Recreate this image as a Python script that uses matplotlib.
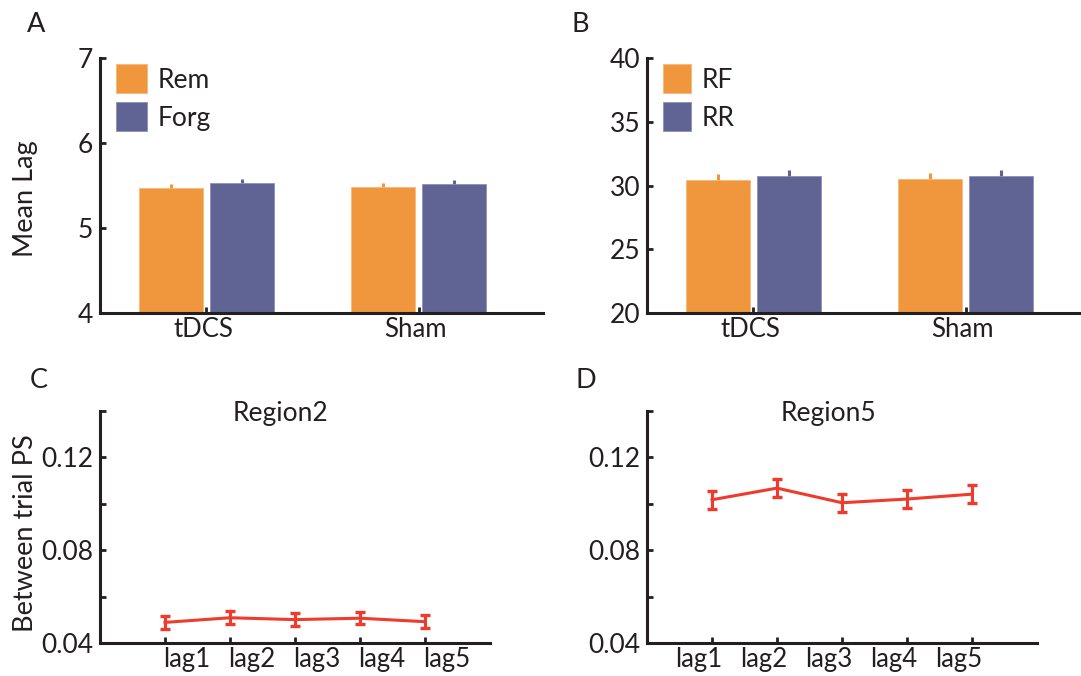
import matplotlib
matplotlib.use('Agg')
import matplotlib.pyplot as plt
import matplotlib.transforms as mtransforms
import numpy as np

plt.rcParams['font.family'] = ['Lato', 'DejaVu Sans']

# data
groups = ['tDCS', 'Sham']
rem = [5.47, 5.48]
rem_err = [0.05, 0.05]
forg = [5.53, 5.52]
forg_err = [0.05, 0.05]

rf = [30.43, 30.50]
rf_err = [0.47, 0.47]
rr = [30.72, 30.77]
rr_err = [0.47, 0.47]

lags = ['lag1', 'lag2', 'lag3', 'lag4', 'lag5']
region2 = [0.0490, 0.0510, 0.0502, 0.0508, 0.0493]
region2_err = [0.0027, 0.0027, 0.0027, 0.0027, 0.0027]
region5 = [0.1018, 0.1068, 0.1005, 0.1021, 0.1042]
region5_err = [0.0038, 0.0038, 0.0038, 0.0038, 0.0038]

orange = '#F0963C'
purple = '#606494'
red = '#EE3B2B'
dark = '#231F20'

W, H = 1081, 676
fig = plt.figure(figsize=(W / 100, H / 100), dpi=100)


def px_axes(x0, y0, x1, y1):
    # axes from pixel box (left, top, right, bottom)
    return fig.add_axes([x0 / W, 1 - y1 / H, (x1 - x0) / W, (y1 - y0) / H])


def style(ax):
    for s in ['top', 'right']:
        ax.spines[s].set_visible(False)
    for s in ['left', 'bottom']:
        ax.spines[s].set_linewidth(2.2)
        ax.spines[s].set_color(dark)
    ax.tick_params(which='both', direction='in', length=4, width=2, color=dark,
                   labelcolor=dark)
    ax.tick_params(axis='y', pad=5, labelsize=19)
    ax.tick_params(axis='x', pad=3, labelsize=18.5)


def shift_xlabels(ax, dx_px):
    # move the x tick labels sideways, like in the original figure
    off = mtransforms.ScaledTranslation(dx_px / 100, 0, fig.dpi_scale_trans)
    for lab in ax.get_xticklabels():
        lab.set_transform(lab.get_transform() + off)


def bar_panel(ax, a, a_err, b, b_err, names, ylim, yticks, hl):
    x = np.arange(1, len(groups) + 1)
    off = 0.167
    w = 0.3
    ax.errorbar(x - off, a, yerr=a_err, fmt='none', ecolor=orange, elinewidth=2.2, capsize=0, zorder=1)
    ax.errorbar(x + off, b, yerr=b_err, fmt='none', ecolor=purple, elinewidth=2.2, capsize=0, zorder=1)
    ax.bar(x - off, a, w, bottom=0, color=orange, edgecolor='#F7B77A', linewidth=0.6, label=names[0], zorder=2)
    ax.bar(x + off, b, w, bottom=0, color=purple, edgecolor='#8E91B8', linewidth=0.6, label=names[1], zorder=2)
    ax.set_ylim(*ylim)
    ax.set_yticks(yticks)
    ax.set_xlim(0.5, 2.585)
    ax.set_xticks(x)
    ax.set_xticklabels(groups)
    style(ax)
    shift_xlabels(ax, -3)
    ax.legend(loc='upper left', bbox_to_anchor=(0.037, 0.975), frameon=False, fontsize=19,
              borderpad=0, borderaxespad=0, handlelength=hl, handleheight=1.29,
              handletextpad=0.38, labelspacing=0.36, labelcolor=dark)


def line_panel(ax, vals, errs, title, dx):
    x = np.arange(1, len(lags) + 1)
    ax.errorbar(x, vals, yerr=errs, color=red, lw=2.2, elinewidth=2.2, capsize=3.5, capthick=2.4)
    ax.set_xlim(0, 6)
    ax.set_ylim(0.04, 0.14)
    ax.set_yticks([0.04, 0.08, 0.12])
    ax.set_yticklabels(['0.04', '0.08', '0.12'])
    ax.set_yticks([0.06, 0.10, 0.14], minor=True)
    ax.set_xticks(x)
    ax.set_xticklabels(lags)
    style(ax)
    shift_xlabels(ax, dx)
    ax.text(0.464, 0.957, title, transform=ax.transAxes, ha='center', va='baseline',
            fontsize=19, color=dark)


axA = px_axes(100, 58, 543, 313)
bar_panel(axA, rem, rem_err, forg, forg_err, ['Rem', 'Forg'], (4, 7), [4, 5, 6, 7], 1.17)

axB = px_axes(647, 58, 1090, 313)
bar_panel(axB, rf, rf_err, rr, rr_err, ['RF', 'RR'], (20, 40), [20, 25, 30, 35, 40], 1.06)

axC = px_axes(100, 411, 490, 643.3)
line_panel(axC, region2, region2_err, 'Region2', 22)

axD = px_axes(647, 411, 1037, 643.3)
line_panel(axD, region5, region5_err, 'Region5', -13)

fig.text(26 / W, 1 - 199 / H, 'Mean Lag', rotation=90, ha='center', va='center', fontsize=19.5, color=dark)
fig.text(26 / W, 1 - 533 / H, 'Between trial PS', rotation=90, ha='center', va='center', fontsize=19.5, color=dark)

for lab, x, y in [('A', 27, 32), ('B', 572, 32), ('C', 30, 388), ('D', 575, 388)]:
    fig.text(x / W, 1 - y / H, lab, ha='left', va='baseline', fontsize=19.5, color=dark)

fig.savefig('out.png', dpi=100)
